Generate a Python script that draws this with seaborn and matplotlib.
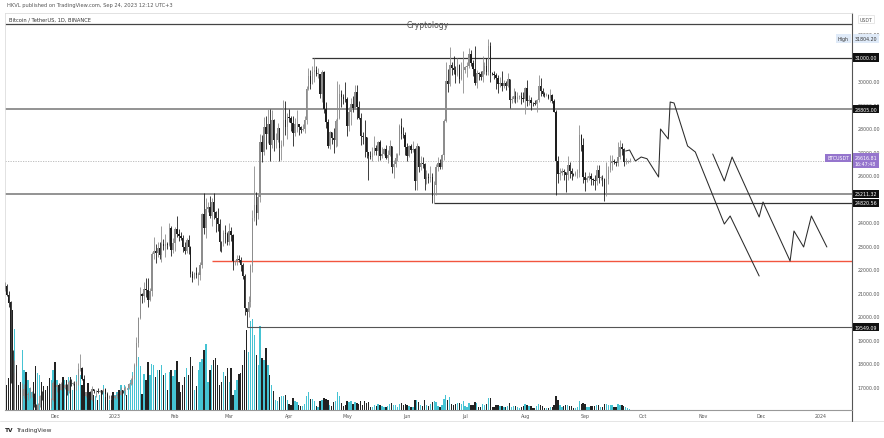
import pandas as pd
import matplotlib
matplotlib.use("Agg")
import matplotlib.pyplot as plt
import matplotlib.dates as mdates
import matplotlib.transforms as mtransforms
from matplotlib.lines import Line2D
import seaborn as sns

# daily BTCUSDT (Binance) candles, 2022-11-05 .. 2023-09-24
first_open = 21150
close = [
    # nov
    21300, 20905, 20590, 18541, 15880, 17586, 17034, 16800, 16330, 16620, 16900, 16662, 16692,
    16700, 16700, 16280, 15781, 16226, 16603, 16598, 16522, 16458, 16428, 16212, 16442, 17164,
    # dec
    16980, 17090, 16890, 17110, 16970, 17090, 16840, 17220, 17130, 17130, 17090, 17210, 17780,
    17810, 17360, 16630, 16780, 16740, 16440, 16900, 16820, 16830, 16780, 16840, 16830, 16920,
    16700, 16550, 16630, 16600, 16540,
    # jan
    16620, 16680, 16670, 16850, 16830, 16950, 16940, 17130, 17180, 17440, 17940, 18850, 19930,
    20950, 20870, 21180, 21130, 20680, 21070, 22670, 22780, 22710, 22920, 22610, 23060, 23010,
    23080, 23030, 23740, 22830, 23130,
    # feb
    23730, 23490, 23430, 23330, 22930, 22760, 23260, 22960, 21800, 21630, 21860, 21780, 21780,
    22200, 24330, 23740, 24570, 24630, 24280, 24840, 24440, 24180, 23940, 23180, 23150, 23550,
    23490, 23140,
    # mar
    23630, 23460, 22350, 22350, 22430, 22410, 22200, 21700, 20360, 20190, 20630, 22160, 24200,
    24750, 24380, 25060, 27420, 26970, 28040, 27770, 28170, 27300, 28330, 27480, 27480, 27990,
    27140, 27270, 28350, 28030, 28470,
    # apr
    28450, 28200, 27800, 28170, 28180, 28040, 27920, 27950, 28330, 29650, 30230, 29880, 30390,
    30480, 30310, 30320, 29430, 30380, 28800, 28240, 27260, 27820, 27590, 27510, 28300, 28420,
    29470, 29340, 29250, 29230,
    # may
    28070, 28670, 29030, 28850, 29530, 28900, 28430, 27660, 27630, 27620, 26980, 26800, 26780,
    26930, 27170, 27030, 27400, 26830, 26890, 27100, 26750, 26850, 27220, 26330, 26480, 26720,
    26870, 28080, 27740, 27700, 27210,
    # jun
    26820, 27250, 27070, 27120, 25760, 27240, 26350, 26500, 26480, 25850, 25940, 25900, 25920,
    25120, 25580, 26330, 26510, 26340, 26850, 28310, 30000, 29890, 30690, 30550, 30470, 30270,
    30700, 30080, 30450, 30470,
    # jul
    30590, 30620, 31160, 30770, 30510, 29900, 30350, 30290, 30170, 30410, 30620, 30380, 31470,
    30330, 30300, 30240, 30140, 29860, 29910, 29800, 29900, 29790, 30080, 29180, 29230, 29350,
    29220, 29310, 29350, 29280, 29230,
    # aug
    29700, 29170, 29180, 29080, 29050, 29040, 29180, 29770, 29560, 29430, 29400, 29420, 29280,
    29410, 29170, 28700, 26620, 26050, 26100, 26190, 26120, 25990, 26430, 26160, 26060, 26010,
    26090, 26100, 27720, 27300, 25940,
    # sep
    25800, 25870, 25970, 25820, 25780, 25750, 26240, 25900, 25900, 25840, 25160, 25840, 26220,
    26530, 26600, 26570, 26530, 26760, 27210, 27130, 26570, 26580, 26580, 26617,
]
high = [
    21480, 21370, 21070, 20670, 18590, 18150, 17650, 17100, 16940, 17180, 17130, 17000, 16800,
    17000, 16820, 16750, 16290, 16300, 16670, 16810, 16600, 16690, 16600, 16480, 16550, 17250,
    17320, 17110, 17160, 17200, 17430, 17110, 17140, 17300, 17360, 17230, 17270, 17240, 18000,
    18390, 17850, 17530, 16800, 16860, 16810, 17060, 16920, 16870, 16950, 16860, 16870, 16930,
    16970, 16780, 16660, 16650, 16640,
    16630, 16760, 16790, 17000, 16880, 17040, 16970, 17180, 17400, 17490, 18000, 19120, 19990,
    21260, 21000, 21470, 21640, 21650, 21190, 22750, 23370, 23080, 23170, 23160, 23820, 23290,
    23500, 23170, 23960, 23820, 23320,
    23810, 24260, 23720, 23590, 23440, 23160, 23350, 23450, 22990, 21940, 21900, 22090, 21890,
    22330, 24380, 25250, 25020, 24880, 25120, 25020, 25250, 24470, 24600, 24140, 23220, 23690,
    23880, 23600,
    23980, 23780, 23480, 22410, 22620, 22600, 22540, 22270, 21800, 20370, 20850, 22240, 24500,
    26390, 25290, 25210, 27750, 27720, 28460, 28520, 28830, 28810, 28760, 28400, 27800, 28200,
    27990, 27500, 29180, 29160, 28650,
    28800, 28530, 28500, 28440, 28770, 28190, 28100, 28180, 28530, 29770, 30560, 30490, 30620,
    31000, 30620, 30550, 30320, 30480, 30410, 29100, 28370, 27880, 27820, 28000, 28400, 30020,
    29890, 29600, 29450, 29950,
    29340, 28880, 29270, 29380, 29850, 29820, 29170, 28660, 27830, 28330, 27640, 26990, 27040,
    27200, 27660, 27270, 27470, 27480, 27180, 27150, 27270, 27060, 27500, 27220, 26630, 26930,
    26940, 28190, 28450, 28050, 27840,
    27350, 27300, 27330, 27440, 27140, 27350, 27120, 26800, 26780, 26530, 26210, 26100, 26410,
    26080, 25750, 26480, 26770, 26680, 26890, 28400, 30800, 30500, 31430, 30810, 31050, 30660,
    31000, 30710, 30830, 31280,
    30660, 30790, 31390, 31330, 30880, 31500, 30450, 30390, 30430, 31050, 30800, 30990, 31800,
    31640, 30400, 30440, 30340, 30240, 30190, 30410, 30060, 30020, 30350, 30100, 29370, 29690,
    29570, 29530, 29410, 29530, 29520,
    29740, 30050, 29410, 29320, 29110, 29180, 29240, 30250, 30140, 29700, 29540, 29480, 29450,
    29670, 29450, 29230, 28780, 26830, 26290, 26290, 26260, 26140, 26800, 26560, 26300, 26100,
    26180, 26250, 28140, 27760, 27580,
    26150, 25980, 26120, 26100, 25880, 26020, 26450, 26430, 25950, 26000, 25900, 26550, 26400,
    26860, 26840, 26670, 26620, 27410, 27490, 27380, 27160, 26740, 26640, 26740,
]
low = [
    21090, 20880, 20390, 17170, 15590, 15750, 16360, 16750, 16230, 15800, 16530, 16390, 16430,
    16550, 16560, 16160, 15480, 15630, 16170, 16460, 16330, 16400, 16400, 15990, 16100, 16420,
    16860, 16790, 16860, 16880, 16870, 16900, 16680, 16730, 17060, 17090, 17070, 16870, 17090,
    17660, 17280, 16530, 16580, 16680, 16260, 16400, 16730, 16560, 16760, 16790, 16720, 16790,
    16590, 16460, 16500, 16330, 16470,
    16500, 16550, 16600, 16650, 16750, 16680, 16910, 16910, 17100, 17140, 17320, 17910, 18720,
    19890, 20550, 20620, 20830, 20410, 20650, 20860, 22420, 22290, 22510, 22460, 22300, 22840,
    22530, 22870, 23000, 22550, 22710,
    22760, 23360, 23200, 23240, 22750, 22630, 22680, 22670, 21690, 21450, 21600, 21630, 21350,
    21530, 22050, 23510, 23340, 24450, 24200, 23860, 24150, 23580, 23620, 22770, 22720, 22970,
    23100, 23020,
    23020, 23200, 21970, 22170, 22200, 22300, 21930, 21580, 20050, 19550, 19990, 20410, 21900,
    24040, 23900, 24120, 24880, 26580, 26870, 27130, 27360, 26600, 27160, 27020, 27150, 27390,
    26600, 26630, 27240, 27720, 27530,
    28240, 27880, 27250, 27660, 27830, 27710, 27780, 27880, 27800, 28170, 29610, 29660, 29870,
    29970, 30230, 30120, 29270, 29100, 28660, 28010, 27140, 27130, 27340, 26940, 27200, 27240,
    28380, 28900, 29030, 29100,
    27660, 27870, 28120, 28690, 28820, 28380, 28390, 27280, 27330, 26760, 26740, 25810, 26700,
    26600, 26870, 26850, 26600, 26640, 26710, 26840, 26690, 26530, 26810, 26080, 25870, 26340,
    26590, 26860, 27550, 27570, 26840,
    26610, 26780, 26960, 26970, 25390, 25350, 26120, 26230, 26310, 25360, 25610, 25660, 25730,
    24820, 24800, 25170, 26180, 26280, 26250, 26660, 28270, 29520, 29810, 30250, 30280, 29930,
    30220, 29900, 30040, 29500,
    30330, 30180, 30560, 30630, 30210, 29850, 29700, 30050, 30040, 29950, 30300, 30250, 30250,
    29940, 30250, 30070, 29660, 29500, 29760, 29560, 29720, 29640, 29730, 28860, 29050, 29100,
    29080, 29100, 29250, 29040, 29110,
    28590, 28930, 28970, 28750, 28940, 28990, 28700, 29100, 29350, 29350, 29330, 29380, 29250,
    29100, 29060, 28690, 25170, 25650, 25800, 26000, 25800, 25300, 25800, 25860, 25780, 25960,
    25970, 25880, 25920, 27020, 25660,
    25330, 25720, 25800, 25600, 25600, 25360, 25600, 25650, 25800, 25550, 24900, 25130, 25620,
    26130, 26220, 26470, 26400, 26390, 26680, 26850, 26370, 26480, 26500, 26550,
]
# volume, relative units
volume = [
    20, 25, 32, 108, 100, 81, 45, 25, 28, 60, 40, 38, 30, 22, 18, 28, 44, 37, 35, 28, 24, 20, 24, 32, 30, 40,
    48, 30, 25, 25, 33, 30, 30, 33, 33, 20, 25, 35, 40, 35, 25, 15, 18, 27, 18, 17, 15, 14, 10, 15, 20, 25,
    13, 13, 10, 10, 18,
    15, 18, 20, 25, 20, 25, 15, 25, 30, 38, 45, 52, 53, 44, 16, 36, 30, 48, 35, 46, 45, 33, 40, 40, 45, 35,
    37, 20, 38, 40, 34,
    40, 49, 28, 18, 25, 33, 42, 35, 53, 44, 20, 24, 40, 48, 51, 60, 66, 28, 40, 45, 50, 52, 45, 25, 28, 38,
    34, 42,
    28, 42, 15, 20, 30, 36, 37, 45, 60, 80, 58, 89, 91, 75, 55, 45, 84, 52, 50, 62, 45, 35, 25, 19, 10, 9,
    13, 14, 14, 15, 10,
    6, 5, 12, 9, 8, 5, 4, 4, 6, 14, 18, 11, 11, 9, 4, 3, 9, 10, 12, 11, 10, 5, 4, 8, 9, 18, 14, 7, 4, 5,
    9, 8, 9, 6, 8, 7, 6, 9, 5, 9, 7, 8, 3, 3, 5, 4, 6, 5, 4, 3, 3, 4, 6, 7, 5, 5, 3, 6, 7, 5, 6,
    5, 4, 3, 3, 10, 10, 8, 5, 4, 10, 5, 4, 6, 8, 9, 8, 4, 3, 5, 11, 15, 10, 13, 6, 5, 6, 7, 7, 6, 9,
    4, 3, 7, 5, 5, 8, 7, 3, 3, 6, 5, 6, 12, 12, 3, 3, 5, 5, 4, 4, 3, 3, 4, 7, 3, 4, 4, 3, 2, 3, 4,
    6, 5, 4, 4, 2, 2, 4, 6, 5, 4, 2, 2, 2, 3, 3, 5, 14, 10, 5, 3, 4, 5, 5, 4, 4, 2, 2, 3, 9, 6, 7,
    6, 3, 3, 4, 4, 4, 5, 5, 3, 3, 6, 6, 5, 5, 5, 3, 3, 6, 5, 5, 4, 3, 2, 1,
]

# horizontal levels drawn on the chart
level_prices = [31000.00, 28805.00, 25211.32, 24820.56, 19549.09]
level_starts = ["2023-04-13", "2022-11-01", "2022-11-01", "2023-06-15", "2023-03-10"]
top_level = 32423
red_level, red_start = 22354, "2023-02-20"
last_price, last_time = 26616.81, "16:47:48"
high_price = 31804.20

# hand-drawn projection paths
proj1_dates = ["2023-09-22", "2023-09-24", "2023-09-27", "2023-09-30", "2023-10-03", "2023-10-09",
               "2023-10-10", "2023-10-14", "2023-10-15", "2023-10-17", "2023-10-24", "2023-10-28",
               "2023-11-12", "2023-11-15", "2023-11-30"]
proj1_price = [27027, 27070, 26603, 26772, 26700, 25923, 27962, 27537, 29109, 29067, 27240, 26985,
               23925, 24266, 21717]
proj2_dates = ["2023-11-06", "2023-11-12", "2023-11-16", "2023-11-30", "2023-12-02", "2023-12-16",
               "2023-12-18", "2023-12-23", "2023-12-27", "2024-01-04"]
proj2_price = [26900, 25753, 26772, 24223, 24860, 22354, 23629, 22949, 24266, 22949]

price_ticks = [17000, 18000, 19000, 20000, 21000, 22000, 23000, 24000, 26000, 27000, 28000,
               29000, 30000, 32000]
month_ticks = ["2022-12-01", "2023-01-01", "2023-02-01", "2023-03-01", "2023-04-01", "2023-05-01",
               "2023-06-01", "2023-07-01", "2023-08-01", "2023-09-01", "2023-10-01", "2023-11-01",
               "2023-12-01", "2024-01-01"]
month_labels = ["Dec", "2023", "Feb", "Mar", "Apr", "May", "Jun", "Jul", "Aug", "Sep", "Oct", "Nov",
                "Dec", "2024"]

sns.set_theme(style="white")
plt.rcParams["font.family"] = ["DejaVu Sans"]

W, H = 884, 439
L, R, T, B = 5, 852, 14, 411
fig = plt.figure(figsize=(W / 100, H / 100), dpi=100)
fig.patch.set_facecolor("white")
ax = fig.add_axes([L / W, 1 - B / H, (R - L) / W, (B - T) / H])
vax = ax.twinx()
ax.set_zorder(3)
vax.set_zorder(1)
ax.patch.set_visible(False)

dates = pd.date_range("2022-11-05", periods=len(close), freq="D")
opens = [first_open] + close[:-1]
up = [c >= o for o, c in zip(opens, close)]
x = mdates.date2num(dates)

# volume pane
vcol = ["#45c3d3" if u else "#222222" for u in up]
vax.bar(x, volume, width=0.7, color=vcol, linewidth=0)
vax.set_ylim(0, B - T)
vax.set_axis_off()

# candles
ccol = ["#8d8d8d" if u else "#1e1e1e" for u in up]
lo = [min(l, o, c) for l, o, c in zip(low, opens, close)]
hi = [max(h, o, c) for h, o, c in zip(high, opens, close)]
ax.vlines(x, lo, hi, colors=ccol, lw=0.6, zorder=3)
bottoms = [min(o, c) for o, c in zip(opens, close)]
heights = [max(abs(c - o), 20) for o, c in zip(opens, close)]
ax.bar(x, heights, bottom=bottoms, width=0.72, color=ccol, linewidth=0, zorder=4)

x0 = mdates.date2num(pd.Timestamp("2023-01-01")) - 56.9
x1 = mdates.date2num(pd.Timestamp("2024-01-01")) + 16.0

# levels
styles = [("#333333", 0.9), ("#8a8a8a", 1.3), ("#8a8a8a", 1.3), ("#333333", 0.9), ("#555555", 0.8)]
for p, s, (c, w) in zip(level_prices, level_starts, styles):
    ax.hlines(p, mdates.date2num(pd.Timestamp(s)), x1, colors=c, lw=w, zorder=2)
ax.hlines(top_level, x0, x1, colors="#444444", lw=0.9, zorder=2)
ax.hlines(red_level, mdates.date2num(pd.Timestamp(red_start)), x1, colors="#f2553f", lw=1.0, zorder=2)
ax.hlines(last_price, x0, x1, colors="#b5b5b5", lw=0.6, linestyles=(0, (1.5, 1.5)), zorder=1)

# projections
for d, p in [(proj1_dates, proj1_price), (proj2_dates, proj2_price)]:
    sns.lineplot(x=pd.to_datetime(d), y=p, sort=False, estimator=None, color="#2b2b2b",
                 lw=0.75, ax=ax, zorder=5)

ax.set_xlim(x0, x1)
ax.set_ylim(16023, 32891)
ax.set_xlabel("")
ax.set_ylabel("")

ax.yaxis.tick_right()
ax.set_yticks(price_ticks)
ax.set_yticklabels([f"{v:.2f}" for v in price_ticks])
ax.tick_params(axis="y", length=0, pad=3.8, labelsize=3.4, labelcolor="#555555")
ax.set_xticks(mdates.date2num(pd.to_datetime(month_ticks)))
ax.set_xticklabels(month_labels)
ax.tick_params(axis="x", length=0, pad=2.0, labelsize=3.4, labelcolor="#555555")

for side in ["top", "left"]:
    ax.spines[side].set_color("#dddddd")
    ax.spines[side].set_linewidth(0.6)
ax.spines["bottom"].set_color("#999999")
ax.spines["bottom"].set_linewidth(0.8)
ax.spines["right"].set_color("#555555")
ax.spines["right"].set_linewidth(0.8)

# price-axis labels
tr = mtransforms.blended_transform_factory(ax.transAxes, ax.transData)
dx = 2.5 / (R - L)
for p in level_prices:
    ax.text(1 + dx, p, f"{p:.2f}", transform=tr, ha="left", va="center", fontsize=3.4,
            color="white", clip_on=False, zorder=10,
            bbox=dict(boxstyle="square,pad=0.35", fc="#111111", ec="none"))
ax.text(1 + dx, high_price, f"{high_price:.2f}", transform=tr, ha="left", va="center",
        fontsize=3.4, color="#333333", clip_on=False, zorder=10,
        bbox=dict(boxstyle="square,pad=0.35", fc="#dfeaf8", ec="none"))
ax.text(1 - 3 / (R - L), high_price, "High", transform=tr, ha="right", va="center",
        fontsize=3.4, color="#333333", clip_on=False, zorder=10,
        bbox=dict(boxstyle="square,pad=0.35", fc="#dfeaf8", ec="none"))
ax.text(1 + dx, last_price, f"{last_price:.2f}\n{last_time}", transform=tr, ha="left",
        va="center", fontsize=3.4, color="white", clip_on=False, zorder=10, linespacing=1.3,
        bbox=dict(boxstyle="square,pad=0.35", fc="#9575cd", ec="none"))
ax.text(1 - 3 / (R - L), last_price + 120, "BTCUSDT", transform=tr, ha="right", va="center",
        fontsize=3.4, color="white", clip_on=False, zorder=10,
        bbox=dict(boxstyle="square,pad=0.35", fc="#9575cd", ec="none"))

# chrome around the chart
def fx(px):
    return px / W


def fy(py):
    return 1 - py / H


fig.add_artist(Line2D([fx(0), fx(W)], [fy(422), fy(422)], color="#e0e0e0", lw=0.6))
fig.add_artist(Line2D([fx(R), fx(R)], [fy(B), fy(422)], color="#555555", lw=0.8))
fig.text(fx(7), fy(5), "HKVL published on TradingView.com, Sep 24, 2023 12:12 UTC+3",
         fontsize=3.7, color="#555555", va="center", ha="left")
fig.text(fx(9), fy(20), "Bitcoin / TetherUS, 1D, BINANCE", fontsize=3.7, color="#333333",
         va="center", ha="left")
fig.text(fx(428), fy(26), "Cryptology", fontsize=5.6, color="#555555", va="center", ha="center")
fig.text(fx(866), fy(20), "USDT", fontsize=3.4, color="#555555", va="center", ha="center",
         bbox=dict(boxstyle="square,pad=0.4", fc="white", ec="#dddddd", lw=0.5))
fig.text(fx(5), fy(431), "TV", fontsize=4.2, fontweight="bold", color="#222222", va="center",
         ha="left")
fig.text(fx(16), fy(431), "TradingView", fontsize=4.2, color="#333333", va="center", ha="left")

fig.savefig("out.png", dpi=100, facecolor="white")
